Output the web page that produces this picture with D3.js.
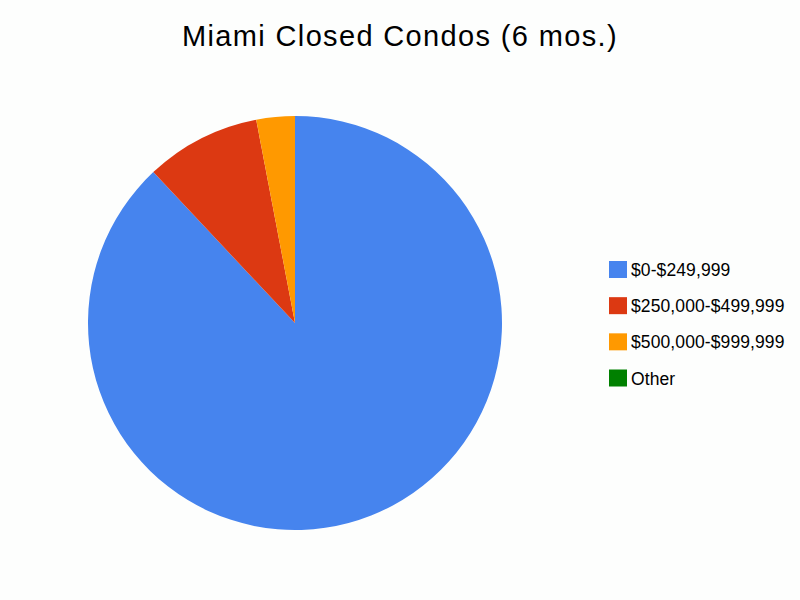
<!DOCTYPE html>
<html><head><meta charset="utf-8">
<script src="https://cdn.jsdelivr.net/npm/d3@7"></script>
<style>html,body{margin:0;padding:0;background:#fdfefd;}</style>
</head><body>
<svg id="c" width="800" height="600"></svg>
<script>
const title = "Miami Closed Condos (6 mos.)";
const categories = ["$0-$249,999", "$250,000-$499,999", "$500,000-$999,999", "Other"];
const values = [88, 9, 3, 0];
const colors = ["#4684ee", "#dc3912", "#ff9900", "#008000"];

const svg = d3.select("#c");
svg.append("rect").attr("width", 800).attr("height", 600).attr("fill", "#fdfefd");

svg.append("text").attr("x", 400).attr("y", 46).attr("text-anchor", "middle")
  .attr("font-family", "Liberation Sans, Arial, sans-serif").attr("font-size", 29)
  .attr("letter-spacing", 1.35)
  .attr("fill", "#000").text(title);

const data = categories.map((c, i) => ({c, v: values[i], col: colors[i]}));
const pie = d3.pie().sort(null).value(d => d.v);
const arc = d3.arc().innerRadius(0).outerRadius(207);
const g = svg.append("g").attr("transform", "translate(295,323)");
g.selectAll("path").data(pie(data).filter(d => d.data.v > 0)).enter().append("path")
  .attr("d", arc).attr("fill", d => d.data.col);

const color = d3.scaleOrdinal().domain(categories).range(colors);
const ly = d3.scalePoint().domain(categories).range([269.5, 378]);
const leg = svg.append("g");
const items = leg.selectAll("g").data(categories).enter().append("g")
  .attr("transform", d => `translate(609,${ly(d)})`);
items.append("rect").attr("x", 0).attr("y", -8.5).attr("width", 18).attr("height", 17)
  .attr("fill", d => color(d));
items.append("text").attr("x", 22).attr("y", 6.5)
  .attr("font-family", "Liberation Sans, Arial, sans-serif").attr("font-size", 17.5)
  .attr("letter-spacing", 0.1)
  .attr("fill", "#000").text(d => d);
</script>
</body></html>
